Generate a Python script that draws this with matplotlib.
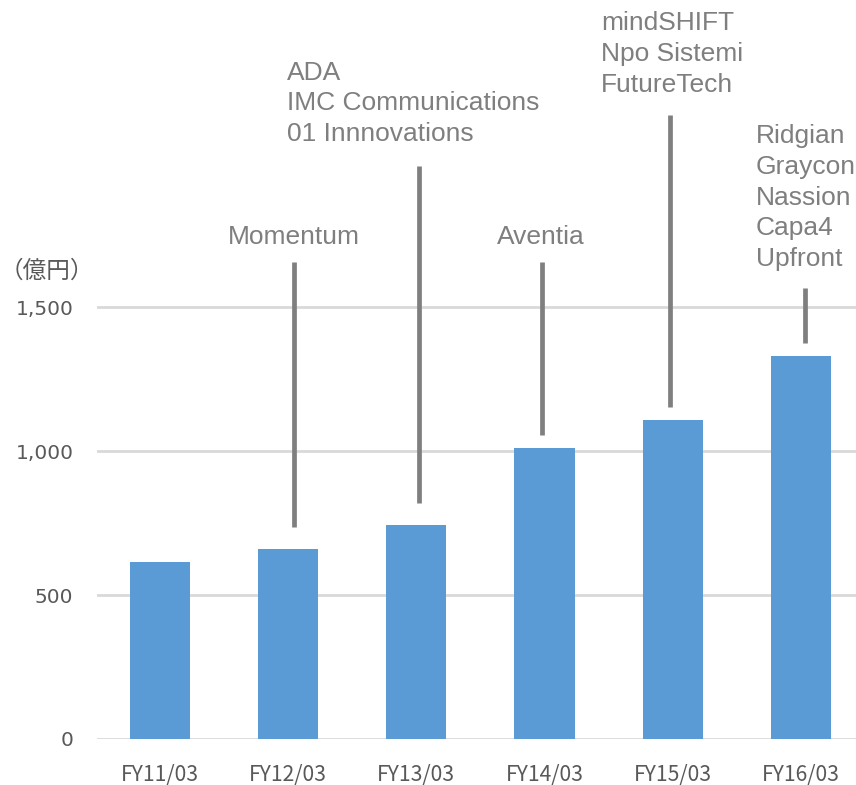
import matplotlib
matplotlib.use('Agg')
import matplotlib.pyplot as plt

# data
years = ['FY11/03', 'FY12/03', 'FY13/03', 'FY14/03', 'FY15/03', 'FY16/03']
sales = [615, 660, 743, 1010, 1108, 1330]
yticks = [0, 500, 1000, 1500]

# acquisitions per year
acq_idx = [1, 2, 3, 4, 5]
acq_names = [
  ['Momentum'],
  ['ADA', 'IMC Communications', '01 Innnovations'],
  ['Aventia'],
  ['mindSHIFT', 'Npo Sistemi', 'FutureTech'],
  ['Ridgian', 'Graycon', 'Nassion', 'Capa4', 'Upfront'],
]

# layout of the callouts (data units)
line_dx = [0.05, 0.02, -0.02, -0.02, 0.03]
line_top = [1656, 1990, 1656, 2167, 1566]
text_x = [0.53, 0.99, 2.63, 3.44, 4.65]
text_y = [1743, 2207, 1743, 2378, 1880]

plt.rcParams['font.family'] = ['Noto Sans CJK JP', 'DejaVu Sans']

fig = plt.figure(figsize=(8.56, 7.85), dpi=100)
ax = fig.add_axes([97 / 856, 46 / 785, 1 - 97 / 856, 739 / 785])

x = list(range(len(years)))
ax.bar(x, sales, width=0.47, color='#5b9bd5', zorder=3)

for i, idx in enumerate(acq_idx):
  y0 = sales[idx] + (75 if sales[idx] < 800 else 45)
  lx = idx + line_dx[i]
  ax.plot([lx, lx], [y0, line_top[i]], color='#7f7f7f', lw=3.4,
          solid_capstyle='butt', zorder=3)
  ax.text(text_x[i], text_y[i], '\n'.join(acq_names[i]), ha='left', va='center',
          fontsize=19, color='#7f7f7f', family='Liberation Sans',
          linespacing=1.35)

ax.set_xlim(-0.49, 5.43)
ax.set_ylim(0, 2566)
ax.set_yticks(yticks)
ax.set_yticklabels(['{:,}'.format(v) for v in yticks], family='DejaVu Sans')
ax.set_xticks(x)
ax.set_xticklabels(years)
ax.tick_params(axis='both', length=0, labelcolor='#595959')
ax.tick_params(axis='y', pad=17, labelsize=14.5)
ax.tick_params(axis='x', pad=18, labelsize=15.2)
ax.yaxis.grid(True, color='#d9d9d9', lw=2, zorder=0)
for s in ax.spines.values():
  s.set_visible(False)

ax.text(-0.49 - 50 / 128, 1625, '（億円）', ha='center', va='center',
        fontsize=17, color='#595959')

fig.savefig('out.png', dpi=100)
